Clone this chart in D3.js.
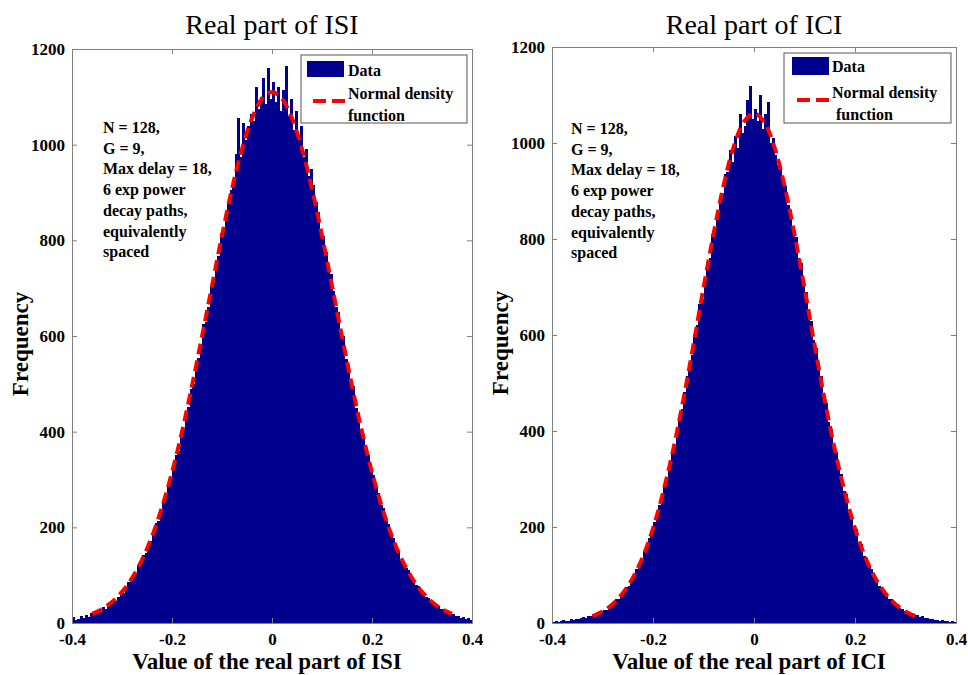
<!DOCTYPE html>
<html><head><meta charset="utf-8">
<script src="https://cdn.jsdelivr.net/npm/d3@7"></script>
<style>
html,body{margin:0;padding:0;background:#fff;}
svg{display:block;}
</style></head>
<body>
<svg id="chart" width="968" height="675"></svg>
<script>
// ---------------- DATA ----------------
const binStart = -0.4, binWidth = 0.005;
const xTicks = [-0.4, -0.2, 0, 0.2, 0.4];
const xTickLabels = ["-0.4", "-0.2", "0", "0.2", "0.4"];
const yTicks = [0, 200, 400, 600, 800, 1000, 1200];
const yTickLabels = ["0", "200", "400", "600", "800", "1000", "1200"];

const isiCounts = [
  12, 7, 9, 14, 10, 16, 13, 21, 18, 24,
  27, 24, 33, 30, 41, 39, 48, 47, 55, 65,
  63, 74, 86, 87, 101, 104, 121, 124, 142, 146,
  166, 172, 190, 210, 214, 230, 255, 262, 293, 298,
  323, 352, 360, 395, 405, 440, 452, 490, 500, 541,
  555, 580, 625, 630, 660, 705, 712, 750, 768, 815,
  820, 850, 880, 905, 925, 980, 1055, 975, 1045, 1010,
  1040, 1065, 1050, 1120, 1075, 1100, 1140, 1085, 1160, 1095,
  1130, 1090, 1120, 1070, 1115, 1165, 1060, 1095, 1030, 1070,
  1010, 1040, 975, 990, 935, 950, 915, 880, 860, 815,
  810, 775, 740, 730, 695, 660, 650, 605, 600, 552,
  540, 505, 495, 450, 440, 405, 395, 360, 352, 322,
  310, 282, 272, 246, 240, 214, 207, 185, 178, 158,
  152, 134, 130, 114, 110, 95, 92, 80, 77, 66,
  64, 55, 52, 45, 43, 36, 35, 29, 29, 23,
  23, 18, 19, 14, 15, 11, 12, 9, 10, 7
];
const iciCounts = [
  3, 5, 2, 4, 6, 4, 5, 8, 6, 9,
  8, 10, 12, 11, 15, 14, 19, 18, 23, 24,
  28, 27, 35, 36, 40, 49, 51, 60, 63, 74,
  78, 92, 97, 112, 118, 130, 150, 155, 178, 186,
  210, 220, 246, 258, 290, 300, 322, 358, 370, 396,
  430, 445, 482, 515, 530, 558, 602, 620, 665, 676,
  705, 752, 760, 810, 818, 845, 890, 895, 935, 940,
  985, 960, 1015, 990, 1060, 1020, 1035, 1090, 1118, 1050,
  1070, 1045, 1100, 1030, 1060, 1085, 1000, 1010, 975, 955,
  950, 915, 910, 870, 860, 815, 805, 760, 750, 705,
  690, 645, 630, 590, 572, 528, 515, 470, 458, 418,
  405, 368, 356, 320, 310, 276, 268, 236, 228, 200,
  195, 168, 164, 140, 136, 116, 113, 95, 92, 77,
  75, 62, 60, 50, 49, 40, 39, 31, 30, 25,
  26, 21, 21, 17, 17, 13, 14, 10, 11, 8,
  9, 6, 7, 5, 6, 4, 5, 3, 4, 2
];

const isiCurveX = [-0.36,-0.34,-0.32,-0.30,-0.28,-0.26,-0.24,-0.22,-0.20,-0.18,-0.16,-0.14,-0.12,-0.10,-0.08,-0.06,-0.04,-0.02,0,
  0.02,0.04,0.06,0.08,0.10,0.12,0.14,0.16,0.18,0.20,0.22,0.24,0.26,0.28,0.30,0.32,0.34,0.36];
const isiCurveY = [19,29,44,65,94,132,181,242,315,400,496,599,705,810,908,991,1055,1096,1110,
  1096,1055,991,908,810,705,599,496,400,315,242,181,132,94,65,44,29,19];

const iciCurveX = [-0.32,-0.30,-0.28,-0.26,-0.24,-0.22,-0.20,-0.18,-0.16,-0.14,-0.12,-0.10,-0.08,-0.06,-0.04,-0.02,0,
  0.02,0.04,0.06,0.08,0.10,0.12,0.14,0.16,0.18,0.20,0.22,0.24,0.26,0.28,0.30,0.32];
const iciCurveY = [14,24,39,62,94,138,197,272,361,465,579,698,811,913,993,1044,1062,
  1044,993,913,811,698,579,465,361,272,197,138,94,62,39,24,14];

const annotationLines = ["N = 128,", "G = 9,", "Max delay = 18,", "6 exp power", "decay paths,", "equivalently", "spaced"];
const legendLabels = ["Data", "Normal density", "function"];

const panels = [
  {title: "Real part of ISI", xlabel: "Value of the real part of ISI", counts: isiCounts, cx: isiCurveX, cy: isiCurveY,
   x0: 72, x1: 472, yTop: 49, yBot: 623, annX: 103, annY: 133, xlabShift: -5,
   leg: {x: 301, y: 55, w: 166, h: 68, sw: {x: 307, y: 61, w: 37, h: 16}, tx: 348, tx2: 348, dash: {x1: 313, x2: 345, y: 101}}},
  {title: "Real part of ICI", xlabel: "Value of the real part of ICI", counts: iciCounts, cx: iciCurveX, cy: iciCurveY,
   x0: 552, x1: 956, yTop: 47, yBot: 623, annX: 571, annY: 134, xlabShift: -5,
   leg: {x: 784, y: 53, w: 167, h: 70, sw: {x: 792, y: 57, w: 37, h: 18}, tx: 832, tx2: 836, dash: {x1: 797, x2: 829, y: 100}}}
];

// ---------------- DRAW ----------------
const svg = d3.select("#chart");
const FONT = "'Liberation Serif', 'Times New Roman', serif";
const barColor = "#00008f";
const axisColor = "#808080";

panels.forEach((p, pi) => {
  const x = d3.scaleLinear().domain([-0.4, 0.4]).range([p.x0, p.x1]);
  const y = d3.scaleLinear().domain([0, 1200]).range([p.yBot, p.yTop]);
  const g = svg.append("g");

  // bars
  g.append("g").attr("shape-rendering", "crispEdges").selectAll("rect").data(p.counts).join("rect")
    .attr("x", (d, i) => x(binStart + i * binWidth))
    .attr("width", (d, i) => x(binStart + (i + 1) * binWidth) - x(binStart + i * binWidth) + 0.6)
    .attr("y", d => y(d))
    .attr("height", d => y(0) - y(d))
    .attr("fill", barColor);

  // normal curve
  const line = d3.line().x(d => x(d[0])).y(d => y(d[1])).curve(d3.curveCatmullRom);
  g.append("path").datum(p.cx.map((v, i) => [v, p.cy[i]]))
    .attr("d", line).attr("fill", "none")
    .attr("stroke", "#ff0000").attr("stroke-width", 4)
    .attr("stroke-dasharray", "11,6");

  // axes
  const fmtX = (d) => xTickLabels[xTicks.indexOf(d)];
  const fmtY = (d) => yTickLabels[yTicks.indexOf(d)];
  const bottom = g.append("g").attr("transform", `translate(0,${p.yBot})`)
    .call(d3.axisBottom(x).tickValues(xTicks).tickFormat(fmtX).tickSizeInner(-5).tickSizeOuter(0).tickPadding(10));
  const left = g.append("g").attr("transform", `translate(${p.x0},0)`)
    .call(d3.axisLeft(y).tickValues(yTicks).tickFormat(fmtY).tickSizeInner(-5).tickSizeOuter(0).tickPadding(7));
  const top = g.append("g").attr("transform", `translate(0,${p.yTop})`)
    .call(d3.axisTop(x).tickValues(xTicks).tickFormat("").tickSizeInner(-5).tickSizeOuter(0));
  const right = g.append("g").attr("transform", `translate(${p.x1},0)`)
    .call(d3.axisRight(y).tickValues(yTicks).tickFormat("").tickSizeInner(-5).tickSizeOuter(0));
  [bottom, left, top, right].forEach(a => {
    a.selectAll("path.domain").attr("stroke", axisColor).attr("stroke-width", 1);
    a.selectAll(".tick line").attr("stroke", axisColor);
    a.selectAll("text").attr("fill", "#000").style("font-family", FONT)
      .style("font-weight", "bold").style("font-size", "17px");
  });
  bottom.selectAll("text").attr("dy", "0.7em");
  left.selectAll("text").attr("dy", "0.32em");

  // title
  g.append("text").attr("x", (p.x0 + p.x1) / 2).attr("y", 34)
    .attr("text-anchor", "middle").style("font-family", FONT).style("font-size", "28px")
    .text(p.title);

  // x label
  g.append("text").attr("x", (p.x0 + p.x1) / 2 + p.xlabShift).attr("y", 669)
    .attr("text-anchor", "middle").style("font-family", FONT).style("font-size", "23px")
    .style("font-weight", "bold").text(p.xlabel);

  // y label
  g.append("text").attr("transform", `translate(${p.x0 - 44},${(p.yTop + p.yBot) / 2 + 8}) rotate(-90)`)
    .attr("text-anchor", "middle").style("font-family", FONT).style("font-size", "23px")
    .style("font-weight", "bold").text("Frequency");

  // annotation
  const ann = g.append("text").style("font-family", FONT).style("font-size", "16px").style("font-weight", "bold");
  annotationLines.forEach((t, i) => {
    ann.append("tspan").attr("x", p.annX).attr("y", p.annY + i * 20.7).text(t);
  });

  // legend
  const L = p.leg;
  g.append("rect").attr("x", L.x).attr("y", L.y).attr("width", L.w).attr("height", L.h)
    .attr("fill", "#fff").attr("stroke", "#555").attr("stroke-width", 1);
  g.append("rect").attr("x", L.sw.x).attr("y", L.sw.y).attr("width", L.sw.w).attr("height", L.sw.h)
    .attr("fill", barColor);
  g.append("line").attr("x1", L.dash.x1).attr("x2", L.dash.x2).attr("y1", L.dash.y).attr("y2", L.dash.y)
    .attr("stroke", "#ff0000").attr("stroke-width", 4).attr("stroke-dasharray", "13,6");
  const lt = g.append("g").style("font-family", FONT).style("font-size", "16px").style("font-weight", "bold");
  lt.append("text").attr("x", L.tx).attr("y", L.sw.y + 15).text(legendLabels[0]);
  lt.append("text").attr("x", L.tx).attr("y", L.dash.y - 2).text(legendLabels[1]);
  lt.append("text").attr("x", L.tx2).attr("y", L.dash.y + 20).text(legendLabels[2]);
});
</script>
</body></html>
